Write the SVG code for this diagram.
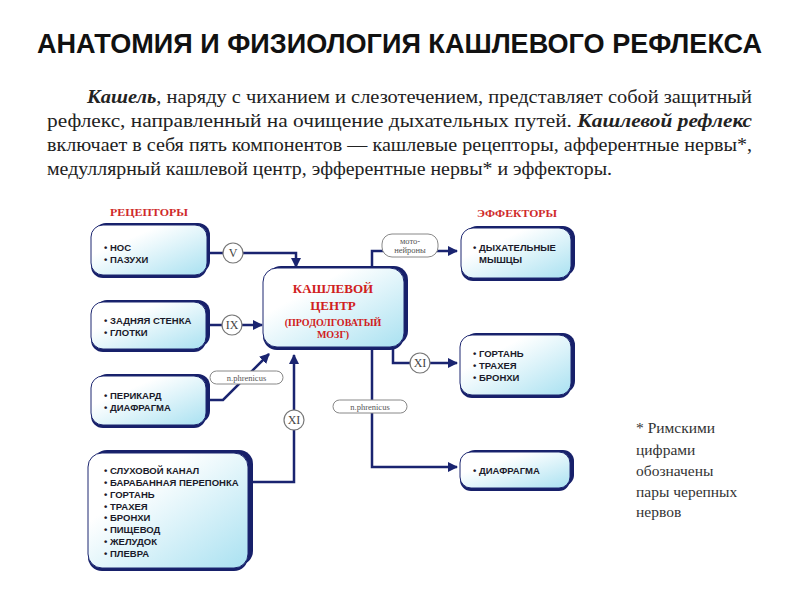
<svg xmlns="http://www.w3.org/2000/svg" width="800" height="600" viewBox="0 0 800 600">
<style>
.title{font-family:"Liberation Sans",Arial,sans-serif;font-weight:bold;font-size:28px;fill:#111}
.para{font-family:"Liberation Serif","Times New Roman",serif;font-size:19px;fill:#222}
.bi{font-weight:bold;font-style:italic}
.head{font-family:"Liberation Serif","Times New Roman",serif;font-weight:bold;font-size:11px;fill:#cf2a2a}
.box{fill:url(#grad);stroke:#1c2670;stroke-width:1}
.sh{fill:#17206a}
.item{font-family:"Liberation Sans",Arial,sans-serif;font-weight:bold;font-size:9.5px;fill:#1a1a2a}
.ctr{font-family:"Liberation Serif","Times New Roman",serif;font-weight:bold;fill:#d02020;text-anchor:middle}
.conn{fill:none;stroke:#1a2470;stroke-width:2.5}
.circ{fill:#fff;stroke:#777;stroke-width:1.2}
.rn{font-family:"Liberation Serif","Times New Roman",serif;font-size:12px;fill:#444;text-anchor:middle}
.pill{fill:#fff;stroke:#888;stroke-width:1}
.pt{font-family:"Liberation Serif","Times New Roman",serif;font-size:8.5px;fill:#555;text-anchor:middle}
.note{font-family:"Liberation Serif","Times New Roman",serif;font-size:15.5px;fill:#333}
</style>
<defs>
<linearGradient id="grad" x1="0" y1="0" x2="1" y2="1">
<stop offset="0.3" stop-color="#ffffff"/>
<stop offset="1" stop-color="#a9e1f1"/>
</linearGradient>
<marker id="arr" markerUnits="userSpaceOnUse" markerWidth="10" markerHeight="10" viewBox="0 0 10 10" refX="9" refY="5" orient="auto">
<path d="M0,0 L10,5 L0,10 z" fill="#1a2470"/>
</marker>
</defs>
<rect width="800" height="600" fill="#fff"/>

<text class="title" x="37" y="53" textLength="725" lengthAdjust="spacingAndGlyphs">АНАТОМИЯ И ФИЗИОЛОГИЯ КАШЛЕВОГО РЕФЛЕКСА</text>

<g id="paragraph">
<text class="para" x="87" y="103" textLength="665" lengthAdjust="spacingAndGlyphs"><tspan class="bi">Кашель</tspan>, наряду с чиханием и слезотечением, представляет собой защитный</text>
<text class="para" x="47" y="127" textLength="705" lengthAdjust="spacingAndGlyphs">рефлекс, направленный на очищение дыхательных путей. <tspan class="bi">Кашлевой рефлекс</tspan></text>
<text class="para" x="47" y="151" textLength="705" lengthAdjust="spacingAndGlyphs">включает в себя пять компонентов — кашлевые рецепторы, афферентные нервы*,</text>
<text class="para" x="47" y="175" textLength="565" lengthAdjust="spacingAndGlyphs">медуллярный кашлевой центр, эфферентные нервы* и эффекторы.</text>
</g>

<text class="head" x="110" y="216" textLength="78" lengthAdjust="spacingAndGlyphs">РЕЦЕПТОРЫ</text>
<text class="head" x="477" y="217" textLength="80" lengthAdjust="spacingAndGlyphs">ЭФФЕКТОРЫ</text>

<g id="connectors">
<path class="conn" d="M208,253 H296 V267" marker-end="url(#arr)"/>
<path class="conn" d="M207,325 H262" marker-end="url(#arr)"/>
<path class="conn" d="M207,400 H223 L269,354" marker-end="url(#arr)"/>
<path class="conn" d="M250,482 H294 V355" marker-end="url(#arr)"/>
<path class="conn" d="M372,270 V251 H457" marker-end="url(#arr)"/>
<path class="conn" d="M393,348 V363 H457" marker-end="url(#arr)"/>
<path class="conn" d="M372,348 V467 H457" marker-end="url(#arr)"/>
<circle class="circ" cx="233" cy="253" r="10"/><text class="rn" x="233" y="257">V</text>
<circle class="circ" cx="232" cy="325" r="10"/><text class="rn" x="232" y="329">IX</text>
<circle class="circ" cx="294" cy="420" r="10"/><text class="rn" x="294" y="424">XI</text>
<circle class="circ" cx="420" cy="363" r="10"/><text class="rn" x="420" y="367">XI</text>
<rect class="pill" x="210" y="371" width="73" height="13" rx="6.5"/><text class="pt" x="246.5" y="380.5">n.phrenicus</text>
<rect class="pill" x="333" y="400" width="74" height="13" rx="6.5"/><text class="pt" x="370" y="409.5">n.phrenicus</text>
<rect class="pill" x="382" y="234" width="56" height="23" rx="10"/><text class="pt" x="410" y="243.5">мото-</text><text class="pt" x="410" y="253">нейроны</text>
</g>

<g id="nos">
<rect class="sh" x="94" y="223" width="116" height="50" rx="12"/>
<rect class="sh" x="91" y="228" width="116" height="50" rx="12"/>
<rect class="box" x="91" y="225" width="116" height="50" rx="12"/>
<text class="item" x="104" y="251">• НОС</text>
<text class="item" x="104" y="263">• ПАЗУХИ</text>
</g>

<g id="pharynx">
<rect class="sh" x="95" y="300" width="115" height="47" rx="12"/>
<rect class="sh" x="91" y="305" width="115" height="47" rx="12"/>
<rect class="box" x="91" y="302" width="115" height="47" rx="12"/>
<text class="item" x="104" y="324">• ЗАДНЯЯ СТЕНКА</text>
<text class="item" x="104" y="336">• ГЛОТКИ</text>
</g>

<g id="pericard">
<rect class="sh" x="95" y="374" width="115" height="49" rx="12"/>
<rect class="sh" x="91" y="379" width="115" height="49" rx="12"/>
<rect class="box" x="91" y="376" width="115" height="49" rx="12"/>
<text class="item" x="104" y="399">• ПЕРИКАРД</text>
<text class="item" x="104" y="411">• ДИАФРАГМА</text>
</g>

<g id="ear">
<rect class="sh" x="93" y="450" width="160" height="115" rx="14"/>
<rect class="sh" x="88" y="456" width="160" height="115" rx="14"/>
<rect class="box" x="88" y="453" width="160" height="115" rx="14"/>
<text class="item" x="104" y="474">• СЛУХОВОЙ КАНАЛ</text>
<text class="item" x="104" y="486">• БАРАБАННАЯ ПЕРЕПОНКА</text>
<text class="item" x="104" y="498">• ГОРТАНЬ</text>
<text class="item" x="104" y="509.5">• ТРАХЕЯ</text>
<text class="item" x="104" y="521">• БРОНХИ</text>
<text class="item" x="104" y="533">• ПИЩЕВОД</text>
<text class="item" x="104" y="545">• ЖЕЛУДОК</text>
<text class="item" x="104" y="557">• ПЛЕВРА</text>
</g>

<g id="center">
<rect class="sh" x="267" y="266" width="141" height="79" rx="14"/>
<rect class="sh" x="263" y="271" width="141" height="79" rx="14"/>
<rect class="box" x="263" y="268" width="141" height="79" rx="14"/>
<text class="ctr" x="333" y="293" font-size="13">КАШЛЕВОЙ</text>
<text class="ctr" x="333" y="310" font-size="13">ЦЕНТР</text>
<text class="ctr" x="333" y="326" font-size="10">(ПРОДОЛГОВАТЫЙ</text>
<text class="ctr" x="333" y="338" font-size="10">МОЗГ)</text>
</g>

<g id="muscles">
<rect class="sh" x="465" y="226" width="110" height="50" rx="12"/>
<rect class="sh" x="461" y="231" width="110" height="50" rx="12"/>
<rect class="box" x="461" y="228" width="110" height="50" rx="12"/>
<text class="item" x="473" y="251">• ДЫХАТЕЛЬНЫЕ</text>
<text class="item" x="479" y="263">МЫШЦЫ</text>
</g>

<g id="larynx">
<rect class="sh" x="464" y="333" width="111" height="60" rx="12"/>
<rect class="sh" x="460" y="338" width="111" height="60" rx="12"/>
<rect class="box" x="460" y="335" width="111" height="60" rx="12"/>
<text class="item" x="473" y="357">• ГОРТАНЬ</text>
<text class="item" x="473" y="369">• ТРАХЕЯ</text>
<text class="item" x="473" y="381">• БРОНХИ</text>
</g>

<g id="diaphragm">
<rect class="sh" x="464" y="450" width="110" height="36" rx="11"/>
<rect class="sh" x="460" y="455" width="110" height="36" rx="11"/>
<rect class="box" x="460" y="452" width="110" height="36" rx="11"/>
<text class="item" x="473" y="474">• ДИАФРАГМА</text>
</g>

<g id="note">
<text class="note" x="636" y="433">* Римскими</text>
<text class="note" x="636" y="455">цифрами</text>
<text class="note" x="636" y="476">обозначены</text>
<text class="note" x="636" y="497">пары черепных</text>
<text class="note" x="636" y="517">нервов</text>
</g>
</svg>
